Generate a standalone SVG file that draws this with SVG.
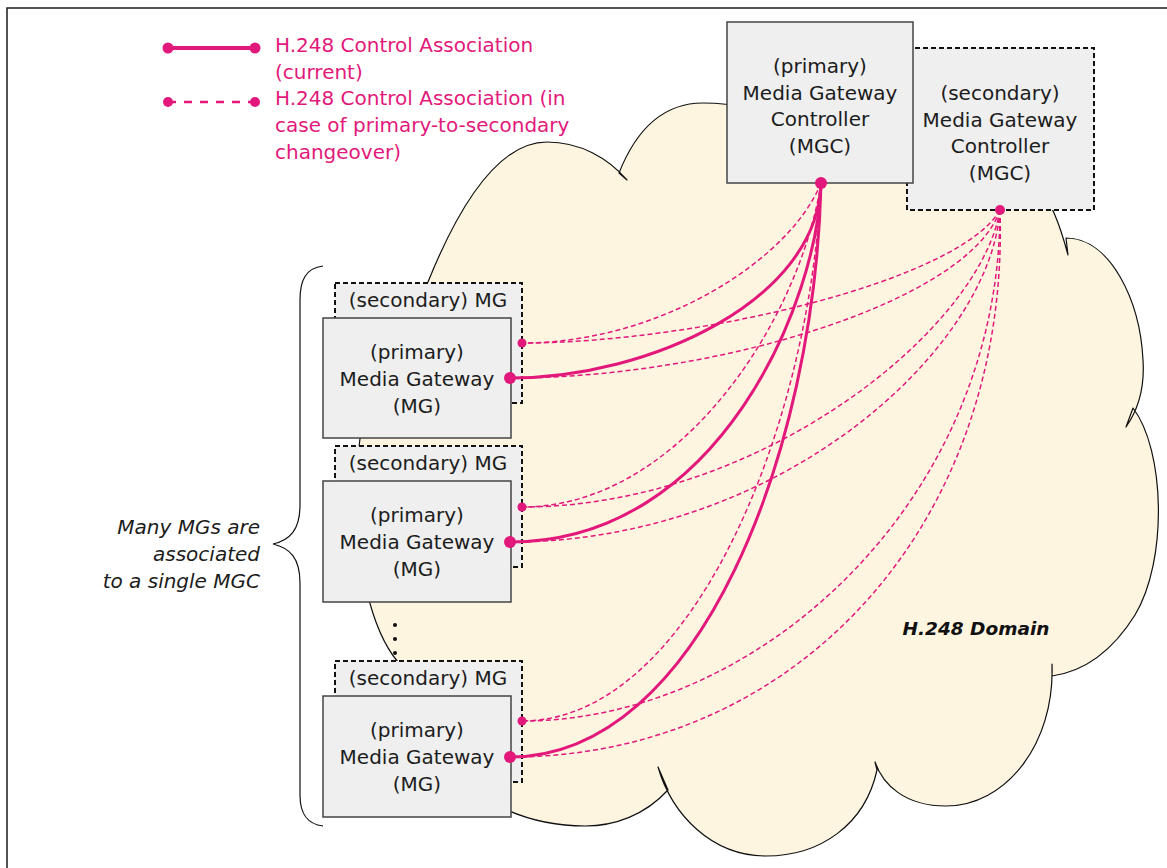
<svg xmlns="http://www.w3.org/2000/svg" width="1167" height="868" viewBox="0 0 1167 868">
<defs>
<style>
.frame{fill:none;stroke:#1a1a1a;stroke-width:1.5}
.cloud{fill:#FEF5E1;stroke:#111;stroke-width:1.2;stroke-linejoin:round}
.brace{fill:none;stroke:#111;stroke-width:1.2}
.box{fill:#EFEFEF;stroke:#444;stroke-width:1.5}
.dbox{fill:#EFEFEF;stroke:#111;stroke-width:2;stroke-dasharray:5 3}
.t{font-family:"DejaVu Sans",Verdana,sans-serif;font-size:20px;fill:#1c1c1c;text-anchor:middle}
.leg{font-family:"DejaVu Sans",Verdana,sans-serif;font-size:20px;fill:#E2197B}
.it{font-family:"DejaVu Sans",Verdana,sans-serif;font-size:20px;font-style:italic;fill:#1c1c1c;text-anchor:end}
.dom{font-family:"DejaVu Sans",Verdana,sans-serif;font-size:18.5px;font-style:italic;font-weight:bold;fill:#111;text-anchor:middle}
.solid{fill:none;stroke:#E2197B;stroke-width:3;stroke-linecap:round}
.dash{fill:none;stroke:#E2197B;stroke-width:1.5;stroke-dasharray:5 3}
.dot{fill:#E2197B}
</style>
</defs>
<rect width="1167" height="868" fill="#fff"/>
<path class="frame" d="M7,868 L7,8 L1167,8"/>

<g id="cloud">
<path class="cloud" d="M398,662 C345,600 330,380 428,282 C455,215 495,142 547,142 C580,142 608,158 627,180 L619,173 C640,120 670,103 703,103 C735,103 760,110 790,125 L910,120 L1040,190 C1050,200 1060,225 1068,255 L1066,238 C1110,238 1140,300 1143,360 C1145,390 1138,410 1126,427 L1133,408 C1165,450 1168,560 1135,615 C1110,655 1080,672 1052,676 L1052,664 C1055,745 1005,806 946,806 C905,806 883,785 875,762 L877,770 C865,825 820,856 766,856 C712,856 672,815 658,767 L668,790 C645,815 615,826 585,826 C525,826 475,800 445,765 L400,668 Z"/>
<text class="dom" x="976" y="635">H.248 Domain</text>
</g>

<g id="legend">
<line class="solid" x1="168" y1="48" x2="255" y2="48" style="stroke-width:4"/>
<circle class="dot" cx="168" cy="48" r="5.5"/>
<circle class="dot" cx="255" cy="48" r="5.5"/>
<line class="dash" x1="168" y1="102" x2="255" y2="102" style="stroke-width:2.5;stroke-dasharray:8 8"/>
<circle class="dot" cx="168" cy="102" r="5"/>
<circle class="dot" cx="255" cy="102" r="5"/>
<text class="leg" x="275" y="52">H.248 Control Association</text>
<text class="leg" x="275" y="79">(current)</text>
<text class="leg" x="275" y="105">H.248 Control Association (in</text>
<text class="leg" x="275" y="132">case of primary-to-secondary</text>
<text class="leg" x="275" y="159">changeover)</text>
</g>

<g id="brace">
<path class="brace" d="M323,266 C306,268 300,280 300,300 L300,505 C300,530 290,540 273,544 C290,548 300,558 300,583 L300,795 C300,815 308,824 323,826"/>
<text class="it" x="260" y="534">Many MGs are</text>
<text class="it" x="260" y="561">associated</text>
<text class="it" x="260" y="588">to a single MGC</text>
</g>

<g id="ellipsis">
<circle cx="395" cy="625" r="2" fill="#111"/>
<circle cx="395" cy="639" r="2" fill="#111"/>
<circle cx="395" cy="653" r="2" fill="#111"/>
</g>

<g id="mgc-secondary">
<rect class="dbox" x="907" y="48" width="187" height="162"/>
<text class="t" x="1000" y="100">(secondary)</text>
<text class="t" x="1000" y="127">Media Gateway</text>
<text class="t" x="1000" y="153">Controller</text>
<text class="t" x="1000" y="180">(MGC)</text>
</g>
<g id="mgc-primary">
<rect class="box" x="727" y="22" width="186" height="161"/>
<text class="t" x="820" y="73">(primary)</text>
<text class="t" x="820" y="100">Media Gateway</text>
<text class="t" x="820" y="126">Controller</text>
<text class="t" x="820" y="153">(MGC)</text>
</g>

<g id="mg1-secondary">
<rect class="dbox" x="335" y="283" width="187" height="120"/>
<text class="t" x="428" y="307">(secondary) MG</text>
</g>
<g id="mg1-primary">
<rect class="box" x="323" y="318" width="188" height="120"/>
<text class="t" x="417" y="359">(primary)</text>
<text class="t" x="417" y="386">Media Gateway</text>
<text class="t" x="417" y="413">(MG)</text>
</g>

<g id="mg2-secondary">
<rect class="dbox" x="335" y="446" width="187" height="121"/>
<text class="t" x="428" y="470">(secondary) MG</text>
</g>
<g id="mg2-primary">
<rect class="box" x="323" y="481" width="188" height="121"/>
<text class="t" x="417" y="522">(primary)</text>
<text class="t" x="417" y="549">Media Gateway</text>
<text class="t" x="417" y="576">(MG)</text>
</g>

<g id="mg3-secondary">
<rect class="dbox" x="335" y="661" width="187" height="121"/>
<text class="t" x="428" y="685">(secondary) MG</text>
</g>
<g id="mg3-primary">
<rect class="box" x="323" y="696" width="188" height="121"/>
<text class="t" x="417" y="737">(primary)</text>
<text class="t" x="417" y="764">Media Gateway</text>
<text class="t" x="417" y="791">(MG)</text>
</g>

<g id="connectors">
<path class="dash" d="M821,183 C790,260 660,343 522,343"/>
<path class="dash" d="M821,183 C800,320 680,507 522,507"/>
<path class="dash" d="M821,183 C810,430 690,721 522,721"/>
<path class="dash" d="M1000,210 C960,280 700,343 522,343"/>
<path class="dash" d="M1000,210 C970,300 720,378 510,378"/>
<path class="dash" d="M1000,210 C980,330 760,507 522,507"/>
<path class="dash" d="M1000,210 C990,350 780,542 510,542"/>
<path class="dash" d="M1000,210 C1000,500 760,721 522,721"/>
<path class="dash" d="M1000,210 C1010,520 800,757 510,757"/>
<path class="solid" d="M821,183 C818,300 650,378 510,378"/>
<path class="solid" d="M821,183 C818,300 720,542 510,542"/>
<path class="solid" d="M821,183 C815,450 700,757 510,757"/>
<circle class="dot" cx="821" cy="183" r="6"/>
<circle class="dot" cx="1000" cy="210" r="5"/>
<circle class="dot" cx="510" cy="378" r="6"/>
<circle class="dot" cx="510" cy="542" r="6"/>
<circle class="dot" cx="510" cy="757" r="6"/>
<circle class="dot" cx="522" cy="343" r="4.5"/>
<circle class="dot" cx="522" cy="507" r="4.5"/>
<circle class="dot" cx="522" cy="721" r="4.5"/>
</g>
</svg>
